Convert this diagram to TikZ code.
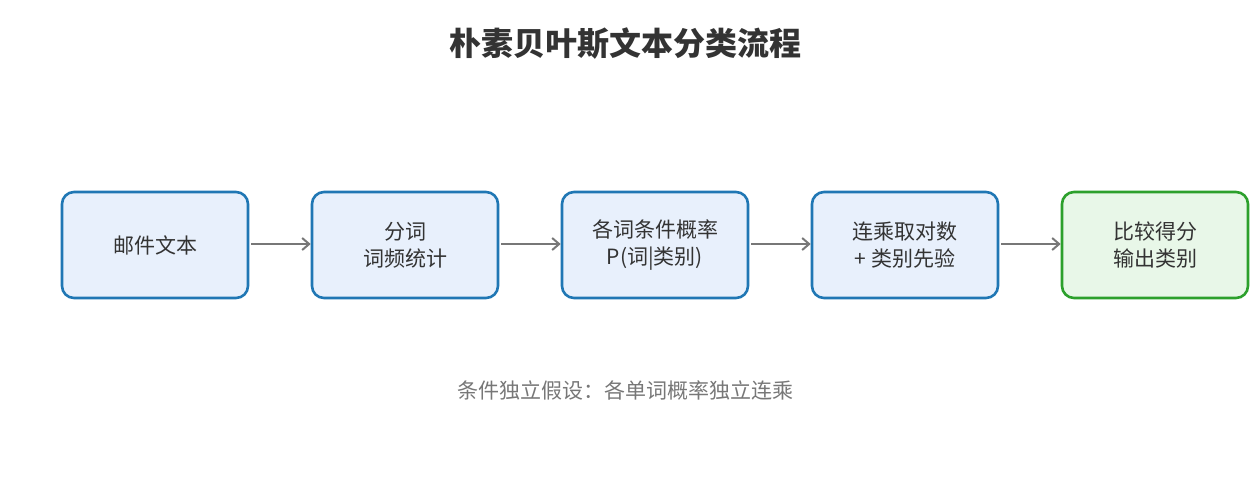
\documentclass[tikz,border=0pt]{standalone}
\usepackage{fontspec}
\setmainfont{Noto Sans CJK SC}
\usetikzlibrary{arrows.meta}
\definecolor{bblue}{HTML}{2077B4}
\definecolor{fblue}{HTML}{E8F0FC}
\definecolor{bgreen}{HTML}{2CA02C}
\definecolor{fgreen}{HTML}{E8F7E8}
\definecolor{txt}{HTML}{333333}
\definecolor{arr}{HTML}{777777}
\tikzset{
  stepbox/.style={draw=bblue, fill=fblue, line width=2.6pt, rounded corners=12pt,
    minimum width=186pt, minimum height=106pt, align=center, text=txt,
    font=\fontsize{21pt}{27pt}\selectfont, inner sep=0pt},
  endbox/.style={stepbox, draw=bgreen, fill=fgreen},
  flow/.style={draw=arr, line width=2.4pt, -{Straight Barb[length=7pt,width=12pt,line width=2pt]}}
}
\begin{document}
\begin{tikzpicture}[x=1pt,y=-1pt]
\useasboundingbox (0,0) rectangle (1250,480);
\node[font=\fontsize{32pt}{36pt}\bfseries\selectfont, text=txt] (title) at (625,44) {朴素贝叶斯文本分类流程};
\node[stepbox] (b1) at (155,245) {邮件文本};
\node[stepbox] (b2) at (405,245) {分词\\词频统计};
\node[stepbox] (b3) at (655,245) {各词条件概率\\P(词|类别)};
\node[stepbox] (b4) at (905,245) {连乘取对数\\+ 类别先验};
\node[endbox] (b5) at (1155,245) {比较得分\\输出类别};
\draw[flow] (b1.east) ++(2,-1) coordinate (s1) (s1) -- (b2.west |- s1);
\draw[flow] (b2.east) ++(2,-1) coordinate (s2) (s2) -- (b3.west |- s2);
\draw[flow] (b3.east) ++(2,-1) coordinate (s3) (s3) -- (b4.west |- s3);
\draw[flow] (b4.east) ++(2,-1) coordinate (s4) (s4) -- (b5.west |- s4);
\node[font=\fontsize{21pt}{24pt}\selectfont, text=arr] (note) at (625,390) {条件独立假设：各单词概率独立连乘};
\end{tikzpicture}
\end{document}
